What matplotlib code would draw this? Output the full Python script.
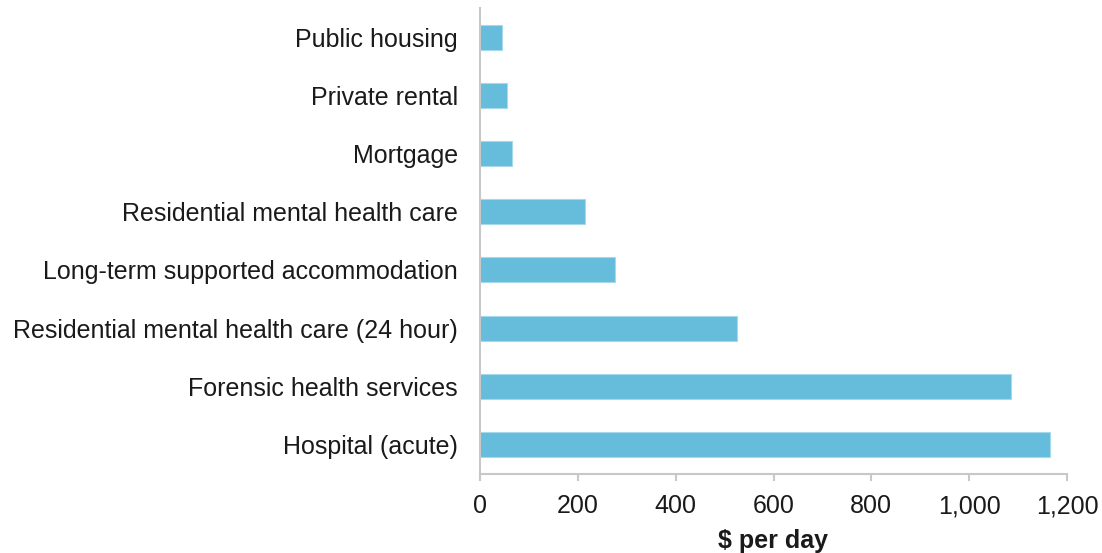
import matplotlib
matplotlib.use("Agg")
import matplotlib.pyplot as plt

categories = ["Hospital (acute)", "Forensic health services",
              "Residential mental health care (24 hour)",
              "Long-term supported accommodation",
              "Residential mental health care", "Mortgage",
              "Private rental", "Public housing"]
values = [1166, 1086, 526, 275, 215, 65, 55, 45]
xticks = [0, 200, 400, 600, 800, 1000, 1200]
xticklabels = ["0", "200", "400", "600", "800", "1,000", "1,200"]

plt.rcParams['font.family'] = ['Liberation Sans', 'DejaVu Sans']

fig = plt.figure(figsize=(11.02, 5.53), dpi=100)
ax = fig.add_axes([480/1102, 1-473.5/553, 587/1102, 465.5/553])
ypos = list(range(len(categories)))
ax.barh(ypos, values, height=0.43, color="#66bcdb", edgecolor="#a8d8ec", linewidth=0.8)
ax.set_xlim(0, 1200)
ax.set_ylim(-0.5, len(categories) - 0.5)
ax.set_yticks(ypos)
ax.set_yticklabels(categories, fontsize=18, color="#1a1a1a")
ax.set_xticks(xticks)
ax.set_xticklabels(xticklabels, fontsize=18, color="#1a1a1a")
ax.set_xlabel("$ per day", fontsize=18, fontweight="bold", color="#1a1a1a", labelpad=8)
for s in ["top", "right"]:
    ax.spines[s].set_visible(False)
for s in ["left", "bottom"]:
    ax.spines[s].set_color("#c8c8c8")
    ax.spines[s].set_linewidth(1.5)
ax.tick_params(axis="y", length=0, pad=16)
ax.tick_params(axis="x", length=5, width=1.5, color="#c8c8c8", pad=10)
fig.savefig("out.png", dpi=100)
